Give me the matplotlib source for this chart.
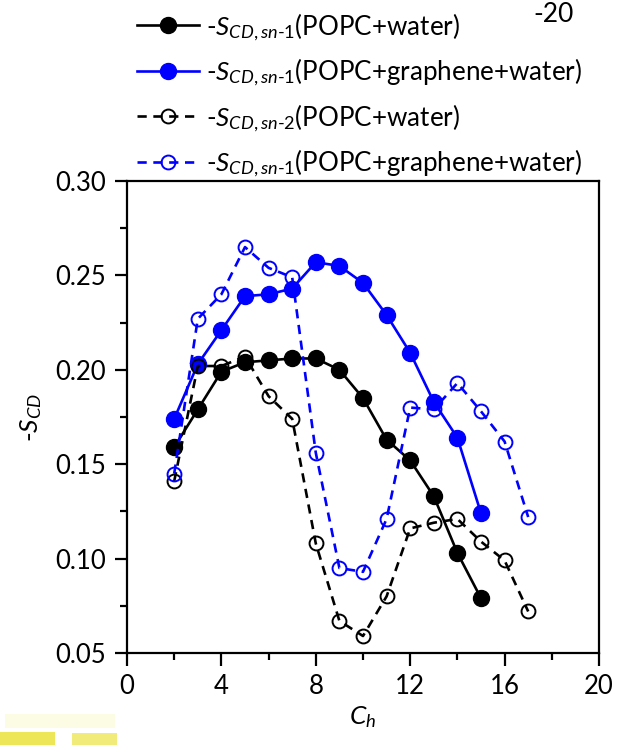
import matplotlib
matplotlib.use("Agg")
import matplotlib.pyplot as plt
from matplotlib.ticker import MultipleLocator
from matplotlib.patches import FancyBboxPatch

plt.rcParams['font.family'] = ['Lato', 'DejaVu Sans']
plt.rcParams['mathtext.fontset'] = 'custom'
plt.rcParams['mathtext.rm'] = 'Lato'
plt.rcParams['mathtext.it'] = 'Lato:italic'

# ---- data ----
x_sn1_water = list(range(2, 16))
y_sn1_water = [0.159, 0.179, 0.199, 0.204, 0.205, 0.206, 0.206, 0.200, 0.185,
               0.163, 0.152, 0.133, 0.103, 0.079]

x_sn1_graph = list(range(2, 16))
y_sn1_graph = [0.174, 0.203, 0.221, 0.239, 0.240, 0.243, 0.257, 0.255, 0.246,
               0.229, 0.209, 0.183, 0.164, 0.124]

x_sn2_water = list(range(2, 18))
y_sn2_water = [0.141, 0.202, 0.202, 0.207, 0.186, 0.174, 0.108, 0.067, 0.059,
               0.080, 0.116, 0.119, 0.121, 0.109, 0.099, 0.072]

x_sn2_graph = list(range(2, 18))
y_sn2_graph = [0.145, 0.227, 0.240, 0.265, 0.254, 0.249, 0.156, 0.095, 0.093,
               0.121, 0.180, 0.179, 0.193, 0.178, 0.162, 0.122]

labels = [r'-$\mathit{S}_{\mathit{CD,sn\text{-}1}}$(POPC+water)',
          r'-$\mathit{S}_{\mathit{CD,sn\text{-}1}}$(POPC+graphene+water)',
          r'-$\mathit{S}_{\mathit{CD,sn\text{-}2}}$(POPC+water)',
          r'-$\mathit{S}_{\mathit{CD,sn\text{-}1}}$(POPC+graphene+water)']

xticks = [0, 4, 8, 12, 16, 20]
yticks = [0.05, 0.10, 0.15, 0.20, 0.25, 0.30]

fig = plt.figure(figsize=(6.18, 7.45), dpi=100)
ax = fig.add_axes([127/618, 1-653/745, (599-127)/618, (653-181)/745])

dash = (0, (3.5, 2.5))
lw = 1.9
l1, = ax.plot(x_sn1_water, y_sn1_water, '-', color='black', lw=lw,
              marker='o', ms=11.5, mfc='black', mec='black', label=labels[0])
l2, = ax.plot(x_sn1_graph, y_sn1_graph, '-', color='#0000ff', lw=lw,
              marker='o', ms=11.5, mfc='#0000ff', mec='#0000ff', label=labels[1])
l3, = ax.plot(x_sn2_water, y_sn2_water, linestyle=dash, color='black', lw=lw,
              marker='o', ms=10, mfc='none', mec='black', mew=1.4, label=labels[2])
l4, = ax.plot(x_sn2_graph, y_sn2_graph, linestyle=dash, color='#0000ff', lw=lw,
              marker='o', ms=10, mfc='none', mec='#0000ff', mew=1.4, label=labels[3])

ax.set_xlim(0, 20)
ax.set_ylim(0.05, 0.30)
ax.set_xticks(xticks)
ax.set_yticks(yticks)
ax.set_yticklabels([f'{v:.2f}' for v in yticks])
ax.xaxis.set_minor_locator(MultipleLocator(2))
ax.yaxis.set_minor_locator(MultipleLocator(0.025))
ax.tick_params(which='major', direction='out', length=9, width=1.6, labelsize=18.5, pad=6)
ax.tick_params(which='minor', direction='out', length=5, width=1.6)
for s in ax.spines.values():
    s.set_linewidth(1.6)

ax.set_xlabel(r'$\mathit{C}_{\mathit{h}}$', fontsize=19, labelpad=4)
ax.set_ylabel(r'-$\mathit{S}_{\mathit{CD}}$', fontsize=19, labelpad=8)

fig.legend(handles=[l1, l2, l3, l4], loc='upper left',
           bbox_to_anchor=(137/618, 1-11/745), frameon=False, fontsize=18.7,
           handlelength=2.4, handletextpad=0.25, labelspacing=0.52,
           borderaxespad=0, borderpad=0)

fig.text(554/618, 1-2/745, '-20', fontsize=19, ha='center', va='top')

# faint yellow smudge at bottom-left (image artifact)
for (x0, y0, w, h, a) in [(0, 732, 55, 16, 0.75), (72, 733, 45, 14, 0.6), (5, 714, 110, 14, 0.12)]:
    fig.patches.append(FancyBboxPatch((x0/618, 1-(y0+h)/745), w/618, h/745,
                                      boxstyle='round,pad=0.0', transform=fig.transFigure,
                                      facecolor='#e8e020', edgecolor='none', alpha=a))

fig.savefig('out.png', dpi=100)
